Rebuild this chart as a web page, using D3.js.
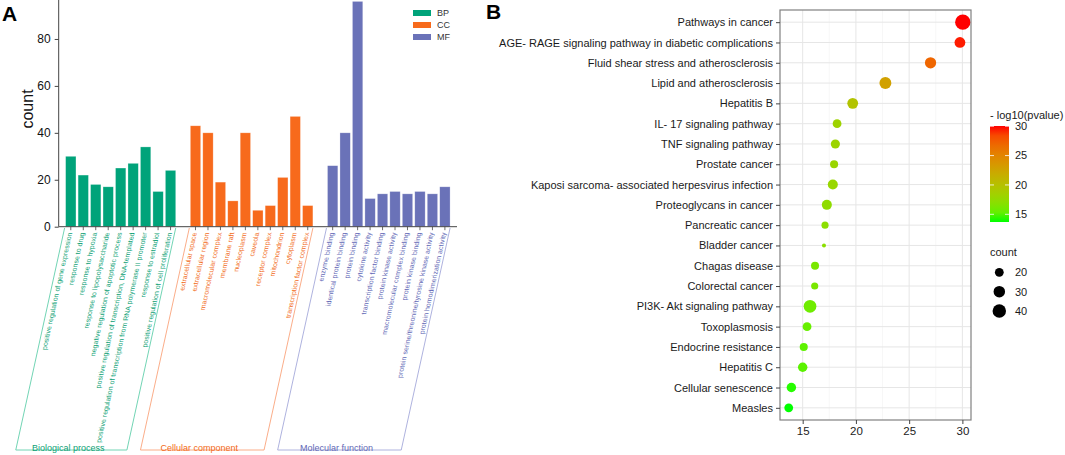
<!DOCTYPE html>
<html lang="en">
<head>
<meta charset="utf-8">
<title>GO and KEGG enrichment</title>
<script src="https://cdn.jsdelivr.net/npm/d3@7"></script>
<style>
  body { margin: 0; background: #fff; }
  text { font-family: "Liberation Sans", Arial, sans-serif; }
</style>
</head>
<body>
<script>
// ---- data: panel A (GO terms) ----
var bpTerms = ["positive regulation of gene expression", "response to drug", "response to hypoxia",
  "response to lipopolysaccharide", "negative regulation of apoptotic process",
  "positive regulation of transcription, DNA-templated",
  "positive regulation of transcription from RNA polymerase II promoter",
  "response to estradiol", "positive regulation of cell proliferation"];
var bpCounts = [30, 22, 18, 17, 25, 27, 34, 15, 24];

var ccTerms = ["extracellular space", "extracellular region", "macromolecular complex", "membrane raft",
  "nucleoplasm", "caveola", "receptor complex", "mitochondrion", "cytoplasm", "transcription factor complex"];
var ccCounts = [43, 40, 19, 11, 40, 7, 9, 21, 47, 9];

var mfTerms = ["enzyme binding", "identical protein binding", "protein binding", "cytokine activity",
  "transcription factor binding", "protein kinase activity", "macromolecular complex binding",
  "protein kinase binding", "protein serine/threonine/tyrosine kinase activity",
  "protein homodimerization activity"];
var mfCounts = [26, 40, 96, 12, 14, 15, 14, 15, 14, 17];

var groupKeys = ["BP", "CC", "MF"];
var groupNames = ["Biological process", "Cellular component", "Molecular function"];
var countTicks = [0, 20, 40, 60, 80];

// ---- data: panel B (KEGG pathways) ----
var pathways = ["Pathways in cancer", "AGE- RAGE signaling pathway in diabetic complications",
  "Fluid shear stress and atherosclerosis", "Lipid and atherosclerosis", "Hepatitis B",
  "IL- 17 signaling pathway", "TNF signaling pathway", "Prostate cancer",
  "Kaposi sarcoma- associated herpesvirus infection", "Proteoglycans in cancer", "Pancreatic cancer",
  "Bladder cancer", "Chagas disease", "Colorectal cancer", "PI3K- Akt signaling pathway",
  "Toxoplasmosis", "Endocrine resistance", "Hepatitis C", "Cellular senescence", "Measles"];
var pathLogP = [30.04, 29.77, 27.01, 22.77, 19.70, 18.23, 18.07, 17.95, 17.83, 17.27, 17.10,
  17.00, 16.16, 16.13, 15.69, 15.41, 15.10, 15.00, 13.94, 13.69];
var pathCount = [52, 27, 29, 32, 27, 20, 21, 18, 24, 24, 16, 13, 18, 16, 36, 20, 18, 22, 22, 20];
var logPTicks = [15, 20, 25, 30];
var countBreaks = [20, 30, 40];

var groupFill = {BP: "#00A37A", CC: "#F76A1C", MF: "#6A72B8"};
var groupText = {BP: "#0E9F75", CC: "#F26A18", MF: "#6268B6"};
var groupLine = {BP: "#62CFAB", CC: "#F9A47C", MF: "#A5A9DA"};

var svg = d3.select("body").append("svg").attr("width", 1065).attr("height", 455);

//////////////////////////// PANEL A ////////////////////////////
var bars = [];
var terms = [bpTerms, ccTerms, mfTerms], counts = [bpCounts, ccCounts, mfCounts];
var slots = [];
groupKeys.forEach(function(g, gi) {
  if (gi > 0) slots.push("gap" + gi);
  terms[gi].forEach(function(t, i) {
    bars.push({key: g + ":" + t, term: t, group: g, value: counts[gi][i]});
    slots.push(g + ":" + t);
  });
});

var xA = d3.scaleBand().domain(slots).range([58.7, 457]).paddingInner(0.17).paddingOuter(0.555);
var yA = d3.scaleLinear().domain([0, 96.6]).range([226.7, 0]);
var gA = svg.append("g");

gA.selectAll("rect.bar").data(bars).enter().append("rect")
  .attr("class", "bar")
  .attr("x", function(d) { return xA(d.key); })
  .attr("y", function(d) { return yA(d.value); })
  .attr("width", xA.bandwidth())
  .attr("height", function(d) { return yA(0) - yA(d.value); })
  .attr("fill", function(d) { return groupFill[d.group]; })
  .attr("stroke", "#ffffff").attr("stroke-opacity", 0.45).attr("stroke-width", 0.6);

// y axis
var yAxisA = gA.append("g").attr("transform", "translate(58.7,0)")
  .call(d3.axisLeft(yA).tickValues(countTicks).tickSize(4).tickPadding(4));
yAxisA.select(".domain").attr("stroke", "#444").attr("d", "M0,0V226.7");
yAxisA.selectAll(".tick line").attr("stroke", "#444");
yAxisA.selectAll(".tick text").attr("font-size", 12).attr("fill", "#111")
  .style("font-family", "'Liberation Sans', Arial, sans-serif");

// x axis line and ticks
gA.append("line").attr("x1", 58.7).attr("x2", 457).attr("y1", yA(0)).attr("y2", yA(0))
  .attr("stroke", "#444").attr("stroke-width", 1);
gA.selectAll("line.xtick").data(bars).enter().append("line")
  .attr("class", "xtick")
  .attr("x1", function(d) { return xA(d.key) + xA.bandwidth() / 2; })
  .attr("x2", function(d) { return xA(d.key) + xA.bandwidth() / 2; })
  .attr("y1", yA(0)).attr("y2", yA(0) + 3.5)
  .attr("stroke", "#444").attr("stroke-width", 0.8);

// slanted term labels
gA.selectAll("text.term").data(bars).enter().append("text")
  .attr("class", "term")
  .attr("transform", function(d) {
    return "translate(" + (xA(d.key) + xA.bandwidth() / 2 - 1) + ",232.5) skewX(-12.4) rotate(-90)";
  })
  .attr("text-anchor", "end")
  .attr("dy", "0.35em")
  .attr("font-size", 7)
  .attr("fill", function(d) { return groupText[d.group]; })
  .text(function(d) { return d.term; });

// group brackets
var topY = 228, botY = 450, shift = 0.22 * (botY - topY);
groupKeys.forEach(function(g, gi) {
  var first = g + ":" + terms[gi][0], last = g + ":" + terms[gi][terms[gi].length - 1];
  var x0 = xA(first) - 1, x1 = xA(last) + xA.bandwidth();
  gA.append("path")
    .attr("d", "M" + x0 + "," + topY + "L" + (x0 - shift) + "," + botY + "L" + (x1 - shift) + "," + botY + "L" + x1 + "," + topY)
    .attr("fill", "none").attr("stroke", groupLine[g]).attr("stroke-width", 0.9);
  gA.append("text")
    .attr("x", (x0 + x1) / 2 - shift - 3).attr("y", 451)
    .attr("text-anchor", "middle").attr("font-size", 9)
    .attr("fill", groupText[g])
    .text(groupNames[gi]);
});

// axis title + legend
gA.append("text").attr("transform", "translate(32.5,109) rotate(-90)")
  .attr("text-anchor", "middle").attr("font-size", 16).attr("fill", "#111").text("count");

var legA = gA.selectAll("g.legA").data(groupKeys).enter().append("g")
  .attr("transform", function(d, i) { return "translate(413," + (10 + i * 12) + ")"; });
legA.append("rect").attr("width", 18).attr("height", 6).attr("fill", function(d) { return groupFill[d]; });
legA.append("text").attr("x", 24).attr("y", 3).attr("dy", "0.35em").attr("font-size", 9)
  .attr("fill", "#333").text(function(d) { return d; });

svg.append("text").attr("x", 2).attr("y", 20.5).attr("font-size", 21).attr("font-weight", "bold")
  .attr("fill", "#000").text("A");

//////////////////////////// PANEL B ////////////////////////////
var px0 = 780, px1 = 971, py0 = 10, py1 = 420;
var xB = d3.scaleLinear().domain([12.87, 30.81]).range([px0, px1]);
var yB = d3.scalePoint().domain(pathways).range([py0, py1]).padding(0.6);
var cExt = d3.extent(pathLogP);
var colB = d3.scaleLinear().domain(cExt).range(["#00FF00", "#FF0000"]).interpolate(d3.interpolateLab);
var cMin = d3.min(pathCount), cMax = d3.max(pathCount);
var rB = d3.scaleSqrt().domain([0, cMax - cMin]).range([2, 7.67]);
var pts = pathways.map(function(p, i) { return {name: p, lp: pathLogP[i], n: pathCount[i]}; });

var gB = svg.append("g");
gB.append("rect").attr("x", px0).attr("y", py0).attr("width", px1 - px0).attr("height", py1 - py0)
  .attr("fill", "#fff");
var minor = [15, 20, 25, 30].map(function(v) { return v - 2.5; }).concat([32.5]);
gB.selectAll("line.minor").data(minor.filter(function(v) { return xB(v) > px0 && xB(v) < px1; }))
  .enter().append("line").attr("class", "minor")
  .attr("x1", xB).attr("x2", xB).attr("y1", py0).attr("y2", py1)
  .attr("stroke", "#F2F2F2").attr("stroke-width", 0.6);
gB.selectAll("line.vmaj").data(logPTicks).enter().append("line").attr("class", "vmaj")
  .attr("x1", xB).attr("x2", xB).attr("y1", py0).attr("y2", py1)
  .attr("stroke", "#E6E6E6").attr("stroke-width", 1);
gB.selectAll("line.hmaj").data(pathways).enter().append("line").attr("class", "hmaj")
  .attr("x1", px0).attr("x2", px1).attr("y1", yB).attr("y2", yB)
  .attr("stroke", "#E6E6E6").attr("stroke-width", 1);

gB.selectAll("circle.pt").data(pts).enter().append("circle").attr("class", "pt")
  .attr("cx", function(d) { return xB(d.lp); })
  .attr("cy", function(d) { return yB(d.name); })
  .attr("r", function(d) { return rB(d.n - cMin); })
  .attr("fill", function(d) { return colB(d.lp); });

gB.append("rect").attr("x", px0).attr("y", py0).attr("width", px1 - px0).attr("height", py1 - py0)
  .attr("fill", "none").attr("stroke", "#808080").attr("stroke-width", 1.2);

var xAxisB = gB.append("g").attr("transform", "translate(0," + py1 + ")")
  .call(d3.axisBottom(xB).tickValues(logPTicks).tickSize(4).tickPadding(3));
xAxisB.select(".domain").remove();
xAxisB.selectAll(".tick line").attr("stroke", "#444");
xAxisB.selectAll(".tick text").attr("font-size", 11.5).attr("fill", "#222")
  .style("font-family", "'Liberation Sans', Arial, sans-serif");

var yAxisB = gB.append("g").attr("transform", "translate(" + px0 + ",0)")
  .call(d3.axisLeft(yB).tickSize(4).tickPadding(3));
yAxisB.select(".domain").remove();
yAxisB.selectAll(".tick line").attr("stroke", "#444");
yAxisB.selectAll(".tick text").attr("font-size", 11).attr("fill", "#1a1a1a")
  .style("font-family", "'Liberation Sans', Arial, sans-serif");

// colour legend
var lg = svg.append("g");
lg.append("text").attr("x", 990).attr("y", 119).attr("font-size", 11).attr("fill", "#1a1a1a")
  .text("- log10(pvalue)");
var cbY = d3.scaleLinear().domain(cExt).range([222, 126]);
var grad = svg.append("defs").append("linearGradient").attr("id", "cb")
  .attr("x1", 0).attr("y1", 1).attr("x2", 0).attr("y2", 0);
d3.range(0, 1.0001, 0.1).forEach(function(t) {
  grad.append("stop").attr("offset", t).attr("stop-color", colB(cExt[0] + t * (cExt[1] - cExt[0])));
});
lg.append("rect").attr("x", 990).attr("y", cbY(cExt[1])).attr("width", 19)
  .attr("height", cbY(cExt[0]) - cbY(cExt[1])).attr("fill", "url(#cb)");
logPTicks.forEach(function(v) {
  lg.append("line").attr("x1", 990).attr("x2", 994).attr("y1", cbY(v)).attr("y2", cbY(v))
    .attr("stroke", "#fff").attr("stroke-width", 0.8);
  lg.append("line").attr("x1", 1005).attr("x2", 1009).attr("y1", cbY(v)).attr("y2", cbY(v))
    .attr("stroke", "#fff").attr("stroke-width", 0.8);
  lg.append("text").attr("x", 1015).attr("y", cbY(v)).attr("dy", "0.35em").attr("font-size", 11)
    .attr("fill", "#1a1a1a").text(v);
});

// size legend
lg.append("text").attr("x", 990).attr("y", 256).attr("font-size", 11).attr("fill", "#1a1a1a").text("count");
countBreaks.forEach(function(v, i) {
  var cy = 272.3 + i * 19.35;
  lg.append("circle").attr("cx", 999.3).attr("cy", cy).attr("r", rB(v - cMin)).attr("fill", "#000");
  lg.append("text").attr("x", 1015).attr("y", cy).attr("dy", "0.35em").attr("font-size", 11)
    .attr("fill", "#1a1a1a").text(v);
});

svg.append("text").attr("x", 486).attr("y", 18.5).attr("font-size", 21).attr("font-weight", "bold")
  .attr("fill", "#000").text("B");
</script>
</body>
</html>
